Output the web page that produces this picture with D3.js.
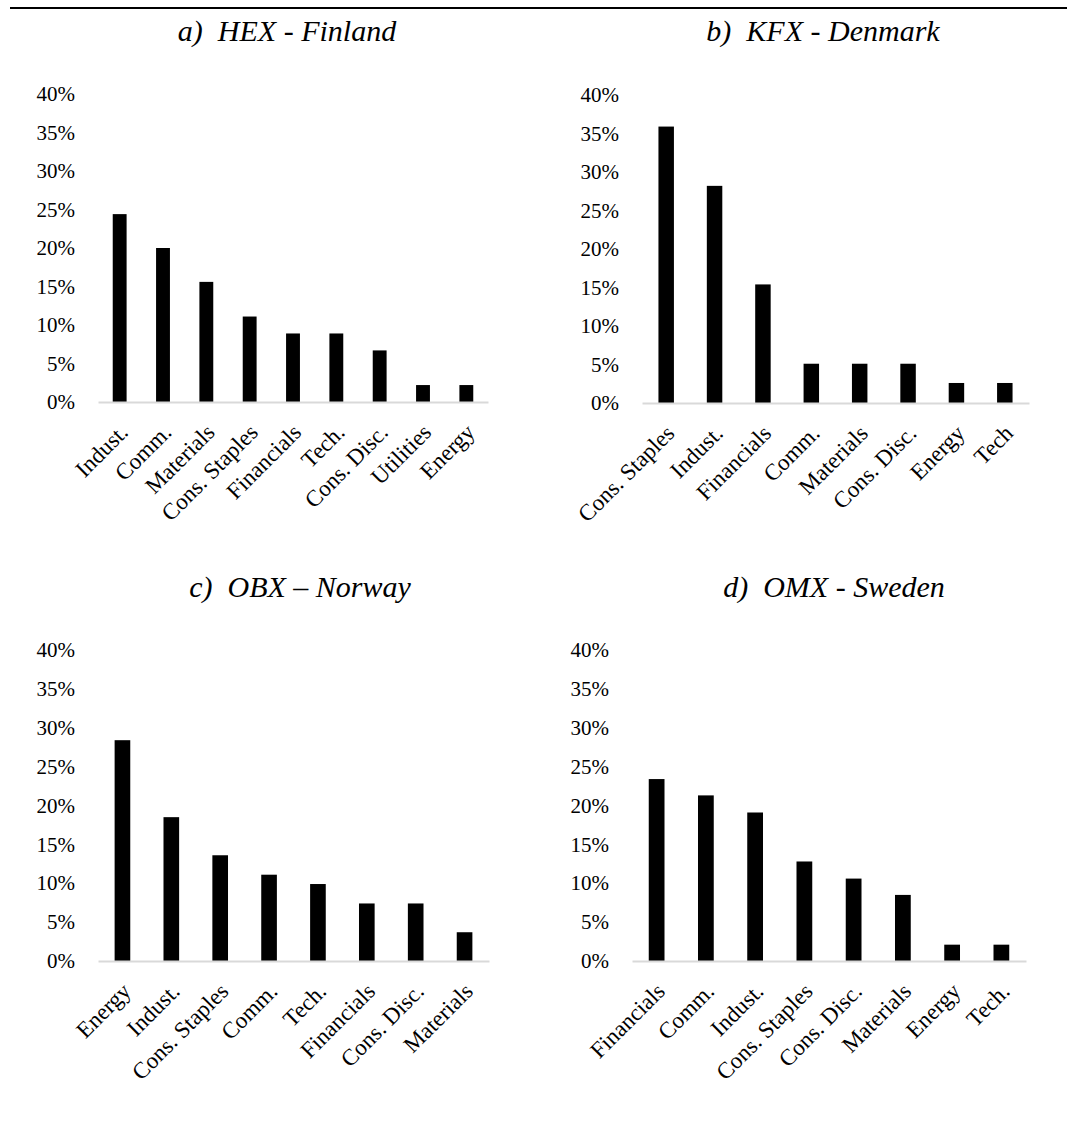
<!DOCTYPE html>
<html>
<head>
<meta charset="utf-8">
<script src="https://cdn.jsdelivr.net/npm/d3@7"></script>
<style>
  body { margin: 0; background: #fff; }
  svg { display: block; }
</style>
</head>
<body>
<svg id="chart" width="1067" height="1127"></svg>
<script>
// sector weights per index (share of constituents)
const catsHEX = ["Indust.", "Comm.", "Materials", "Cons. Staples", "Financials", "Tech.", "Cons. Disc.", "Utilities", "Energy"];
const valsHEX = [0.244, 0.200, 0.156, 0.111, 0.089, 0.089, 0.067, 0.022, 0.022];

const catsKFX = ["Cons. Staples", "Indust.", "Financials", "Comm.", "Materials", "Cons. Disc.", "Energy", "Tech"];
const valsKFX = [0.359, 0.282, 0.154, 0.051, 0.051, 0.051, 0.026, 0.026];

const catsOBX = ["Energy", "Indust.", "Cons. Staples", "Comm.", "Tech.", "Financials", "Cons. Disc.", "Materials"];
const valsOBX = [0.284, 0.185, 0.136, 0.111, 0.099, 0.074, 0.074, 0.037];

const catsOMX = ["Financials", "Comm.", "Indust.", "Cons. Staples", "Cons. Disc.", "Materials", "Energy", "Tech."];
const valsOMX = [0.234, 0.213, 0.191, 0.128, 0.106, 0.085, 0.021, 0.021];

const titles = ["a)  HEX - Finland", "b)  KFX - Denmark", "c)  OBX \u2013 Norway", "d)  OMX - Sweden"];
const yTicks = [0, 0.05, 0.10, 0.15, 0.20, 0.25, 0.30, 0.35, 0.40];

const panels = [
  { cats: catsHEX, vals: valsHEX, title: titles[0], x0: 98,  x1: 488,  y0: 402, y1: 94,  tx: 287, ty: 41 },
  { cats: catsKFX, vals: valsKFX, title: titles[1], x0: 642, x1: 1029, y0: 403, y1: 95,  tx: 823, ty: 41 },
  { cats: catsOBX, vals: valsOBX, title: titles[2], x0: 98,  x1: 489,  y0: 961, y1: 650, tx: 300, ty: 597 },
  { cats: catsOMX, vals: valsOMX, title: titles[3], x0: 632, x1: 1026, y0: 961, y1: 650, tx: 834, ty: 597 }
];

const font = "'Liberation Serif', 'Times New Roman', serif";
const svg = d3.select("#chart").attr("font-family", font);

// rule across the top
svg.append("line")
  .attr("x1", 10).attr("x2", 1067)
  .attr("y1", 8).attr("y2", 8)
  .attr("stroke", "#000").attr("stroke-width", 2);

panels.forEach((p) => {
  const g = svg.append("g");

  const x = d3.scaleBand()
    .domain(p.cats)
    .range([p.x0, p.x1])
    .paddingInner(0.68)
    .paddingOuter(0.34);

  const y = d3.scaleLinear().domain([0, 0.4]).range([p.y0, p.y1]);

  g.append("text")
    .attr("x", p.tx).attr("y", p.ty)
    .attr("text-anchor", "middle")
    .attr("font-style", "italic")
    .attr("font-size", 30)
    .attr("fill", "#000")
    .style("white-space", "pre")
    .text(p.title);

  // y labels
  const yAxis = g.append("g")
    .attr("transform", `translate(${p.x0},0)`)
    .call(d3.axisLeft(y).tickValues(yTicks).tickFormat(d3.format(".0%")).tickSize(0).tickPadding(23));
  yAxis.select(".domain").remove();
  yAxis.selectAll("text")
    .attr("font-family", font)
    .attr("font-size", 21)
    .attr("fill", "#000");

  // bars
  g.selectAll("rect")
    .data(p.vals)
    .join("rect")
    .attr("x", (d, i) => x(p.cats[i]))
    .attr("width", x.bandwidth())
    .attr("y", (d) => y(d))
    .attr("height", (d) => y(0) - y(d))
    .attr("fill", "#000");

  // category axis
  const xAxis = g.append("g")
    .attr("transform", `translate(0,${p.y0})`)
    .call(d3.axisBottom(x).tickSize(0).tickSizeOuter(0).tickPadding(0));
  xAxis.select(".domain").attr("stroke", "#d9d9d9").attr("stroke-width", 2);
  xAxis.selectAll("text")
    .attr("font-family", font)
    .attr("font-size", 23)
    .attr("fill", "#000")
    .attr("text-anchor", "end")
    .attr("y", 0)
    .attr("dy", "0.35em")
    .attr("transform", "translate(4,26) rotate(-45)");
});
</script>
</body>
</html>
